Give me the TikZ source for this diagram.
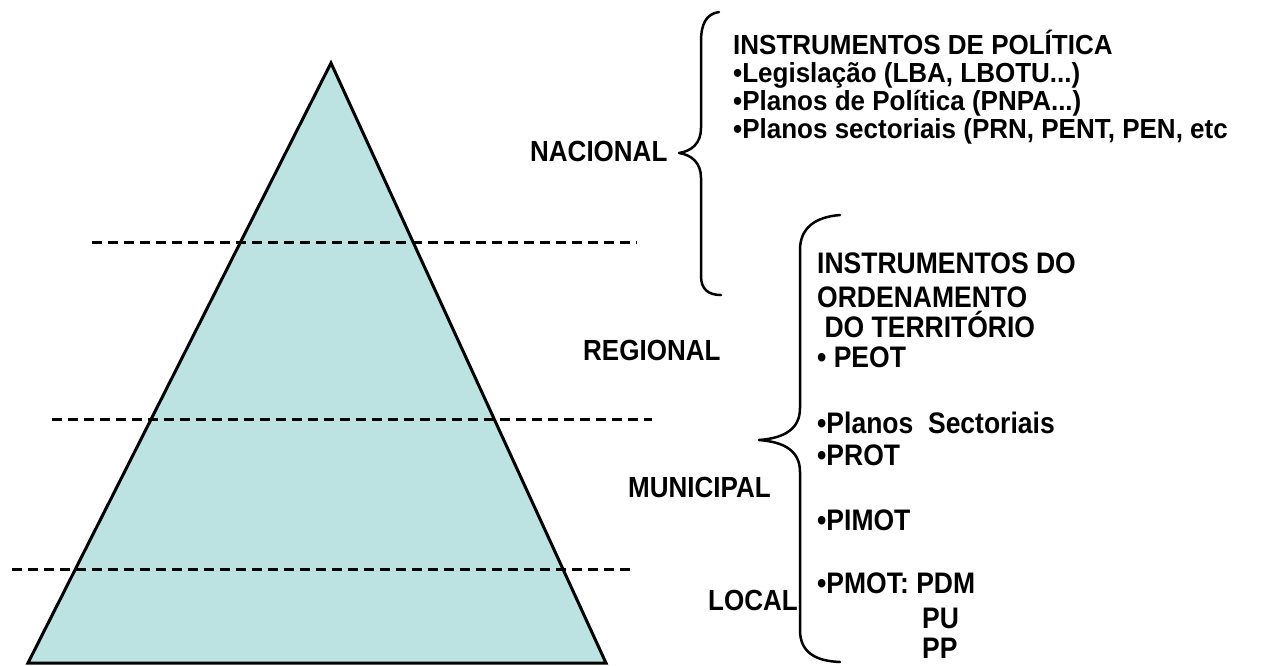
\documentclass[tikz,border=0pt]{standalone}
\usepackage{fontspec}
\setmainfont{Liberation Sans}
\definecolor{pyrfill}{RGB}{188,226,226}
\newcommand{\tallt}[1]{\scalebox{1}[1.12]{#1}}
\newcommand{\talla}[1]{\scalebox{1}[1.06]{#1}}
\begin{document}
\begin{tikzpicture}[x=1pt,y=-1pt,
  lbl/.style={inner sep=0pt,anchor=base west,font=\fontsize{26}{30}\selectfont\bfseries},
  txta/.style={inner sep=0pt,anchor=base west,font=\fontsize{26}{28}\selectfont\bfseries},
  txtb/.style={inner sep=0pt,anchor=base west,font=\fontsize{26.5}{30}\selectfont\bfseries},
  levelline/.style={line width=3pt,dash pattern=on 10pt off 6pt},
  bracestyle/.style={line width=2.5pt,line join=round,line cap=round}]
\useasboundingbox (0,0) rectangle (1267,665);
% pyramid
\coordinate (apex) at (331,63);
\coordinate (bl) at (28,663);
\coordinate (br) at (606,663);
\filldraw[fill=pyrfill,draw=black,line width=3pt,line join=miter] (apex) -- (bl) -- (br) -- cycle;
% level lines
\draw[levelline] (92,242) -- (637,242);
\draw[levelline] (52,419) -- (652,419);
\draw[levelline] (12,569) -- (636,569);
% level labels
\node[lbl] (nac) at (530,161) {\tallt{NACIONAL}};
\node[lbl] (reg) at (583,360) {\tallt{REGIONAL}};
\node[lbl] (mun) at (628,497) {\tallt{MUNICIPAL}};
\node[lbl] (loc) at (708,610) {\tallt{LOCAL}};
% brace 1
\coordinate (b1tip) at (679,153);
\draw[bracestyle] (719,12) .. controls (706,14) and (701,24) .. (701,42)
  -- (701,128) .. controls (701,143) and (692,151) .. (b1tip)
  .. controls (692,155) and (701,163) .. (701,178)
  -- (701,276) .. controls (701,289) and (708,295) .. (721,295);
% brace 2
\coordinate (b2tip) at (759,440);
\draw[bracestyle] (840,215) .. controls (815,217) and (800,228) .. (800,250)
  -- (800,408) .. controls (800,428) and (786,438) .. (b2tip)
  .. controls (786,442) and (800,452) .. (800,472)
  -- (800,630) .. controls (800,652) and (815,661) .. (840,662);
% block 1
\node[txta] (a1) at (733,54) {\talla{INSTRUMENTOS DE POLÍTICA}};
\node[txta] (a2) at (733,82) {\talla{•Legislação (LBA, LBOTU...)}};
\node[txta] (a3) at (733,110) {\talla{•Planos de Política (PNPA...)}};
\node[txta] (a4) at (733,138) {\talla{•Planos sectoriais (PRN, PENT, PEN, etc}};
% block 2
\node[txtb] (c1) at (817,273) {\tallt{INSTRUMENTOS DO}};
\node[txtb] (c2) at (817,307) {\tallt{ORDENAMENTO}};
\node[txtb] (c3) at (817,337) {\tallt{\ DO TERRITÓRIO}};
\node[txtb] (c4) at (817,367) {\tallt{• PEOT}};
\node[txtb] (c5) at (817,433) {\tallt{•Planos\ \ Sectoriais}};
\node[txtb] (c6) at (817,465) {\tallt{•PROT}};
\node[txtb] (c7) at (817,530) {\tallt{•PIMOT}};
\node[txtb] (c8) at (817,593) {\tallt{•PMOT: PDM}};
\node[txtb] (c9) at (922,628) {\tallt{PU}};
\node[txtb] (c10) at (922,658) {\tallt{PP}};
\end{tikzpicture}
\end{document}
